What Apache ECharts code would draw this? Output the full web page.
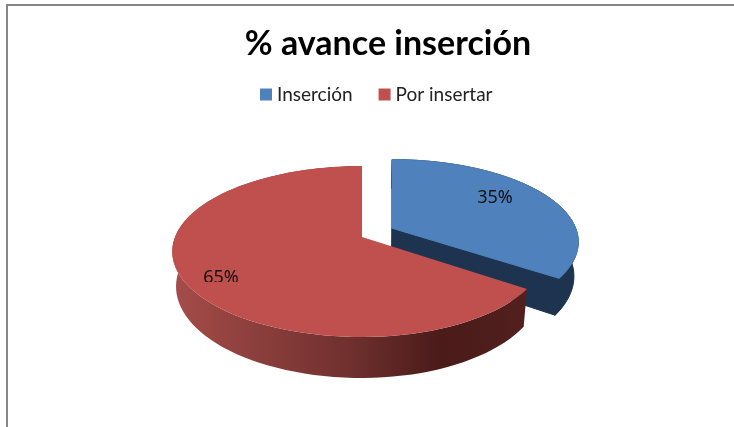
<!DOCTYPE html>
<html>
<head>
<meta charset="utf-8">
<style>html,body{margin:0;padding:0;background:#fff}#c{width:734px;height:427px}</style>
<script src="https://cdn.jsdelivr.net/npm/echarts@6/dist/echarts.min.js"></script>
</head>
<body>
<div id="c"></div>
<script>
var chartTitle = '% avance inserción';
var categories = ['Inserción', 'Por insertar'];
var values = [34.6, 65.4];
var colors = ['#4F81BD', '#C0504D'];

// Projection of the tilted disc on the page
var X0 = 362, Y0 = 237, RX_LEFT = 187, RX_RIGHT = 181, RX_EXPLODED = 187, RY = 83, K = 0.17, DEPTH = 34, BOTTOM_SCALE = 0.98;
var EXPLODE_DX = 30, EXPLODE_DV = 0.108;

function project(angle, r, exploded, bottom) {
  var u = Math.sin(angle) * r;
  var v = Math.cos(angle) * r + (exploded ? EXPLODE_DV : 0);
  var w = 1 + K * v;
  var rx = exploded ? RX_EXPLODED : (u > 0 ? RX_RIGHT : RX_LEFT);
  var x = X0 + (exploded ? EXPLODE_DX : 0) + rx * u / w;
  var y = Y0 - RY * v / w;
  if (bottom) {
    x = X0 + (x - X0) * BOTTOM_SCALE;
    y = y + DEPTH / w;
  }
  return [x, y];
}
function arc(a0, a1, exploded, bottom) {
  var pts = [], n = 90;
  for (var i = 0; i <= n; i++) pts.push(project(a0 + (a1 - a0) * i / n, 1, exploded, bottom));
  return pts;
}
function poly(points, fill, z2, stroke) {
  return { type: 'polygon', shape: { points: points }, style: { fill: fill, stroke: stroke || null, lineWidth: 1 }, z2: z2 };
}
var total = values.reduce(function (a, b) { return a + b; }, 0);

function makeRender(index) {
  return function (params, api) {
    var value = api.value(0);
    var before = values.slice(0, index).reduce(function (a, b) { return a + b; }, 0);
    var a0 = before / total * 2 * Math.PI;
    var a1 = a0 + value / total * 2 * Math.PI;
    var exploded = index === 0;
    var top = arc(a0, a1, exploded, false);
    var bot = arc(a0, a1, exploded, true);
    var apexT = project(0, 0, exploded, false), apexB = project(0, 0, exploded, true);
    var kids = [];
    var wallFill, wallStroke = null;
    if (exploded) {
      wallFill = wallStroke = '#1D3350';
      kids.push(poly([apexT, top[0], bot[0], apexB], wallFill, 1));
      kids.push(poly([apexT, top[top.length - 1], bot[bot.length - 1], apexB], wallFill, 1, wallStroke));
    } else {
      wallFill = new echarts.graphic.LinearGradient(0, 0, 1, 0, [
        { offset: 0, color: '#A64D4A' },
        { offset: 0.12, color: '#984542' },
        { offset: 0.5, color: '#6F302E' },
        { offset: 0.76, color: '#4A1B19' },
        { offset: 1, color: '#52201E' }
      ]);
    }
    kids.push(poly(top.concat(bot.slice().reverse()), wallFill, 2, wallStroke));
    kids.push(poly([apexT].concat(top), colors[index], 3, exploded ? colors[index] : null));
    var pct = Math.round(value / total * 100) + '%';
    var textStyle = { text: pct, fontFamily: 'Noto Sans', fontSize: 18, fill: '#111', align: 'center', verticalAlign: 'middle' };
    var label = exploded
      ? { type: 'text', x: 495, y: 198, z2: 5, style: textStyle }
      : { type: 'text', x: 221, y: 278, z2: 5, style: textStyle,
          clipPath: { type: 'rect', shape: { x: -31, y: -24, width: 62, height: 28 } } };
    kids.push(label);
    return { type: 'group', children: kids };
  };
}

var chart = echarts.init(document.getElementById('c'), null, { renderer: 'canvas' });
chart.setOption({
  animation: false,
  backgroundColor: '#fff',
  title: {
    text: chartTitle, left: 383, top: 22, textAlign: 'center',
    textStyle: { fontFamily: 'Lato', fontWeight: 'bold', fontSize: 34, color: '#000' }
  },
  legend: {
    data: categories, left: 260, top: 85, padding: 0, icon: 'rect', itemWidth: 12, itemHeight: 12, itemGap: 26, selectedMode: false,
    textStyle: { fontFamily: 'Lato', fontSize: 19, color: '#222' }
  },
  graphic: [
    { type: 'rect', shape: { x: 6, y: 4, width: 2, height: 423 }, style: { fill: '#868686' }, silent: true },
    { type: 'rect', shape: { x: 6, y: 4, width: 728, height: 2 }, style: { fill: '#868686' }, silent: true }
  ],
  series: categories.map(function (name, i) {
    return {
      type: 'custom', name: name, coordinateSystem: 'none', silent: true, clip: false,
      itemStyle: { color: colors[i] },
      encode: { value: 0 },
      data: [[values[i]]],
      renderItem: makeRender(i),
      z: i + 2
    };
  })
});
</script>
</body>
</html>
